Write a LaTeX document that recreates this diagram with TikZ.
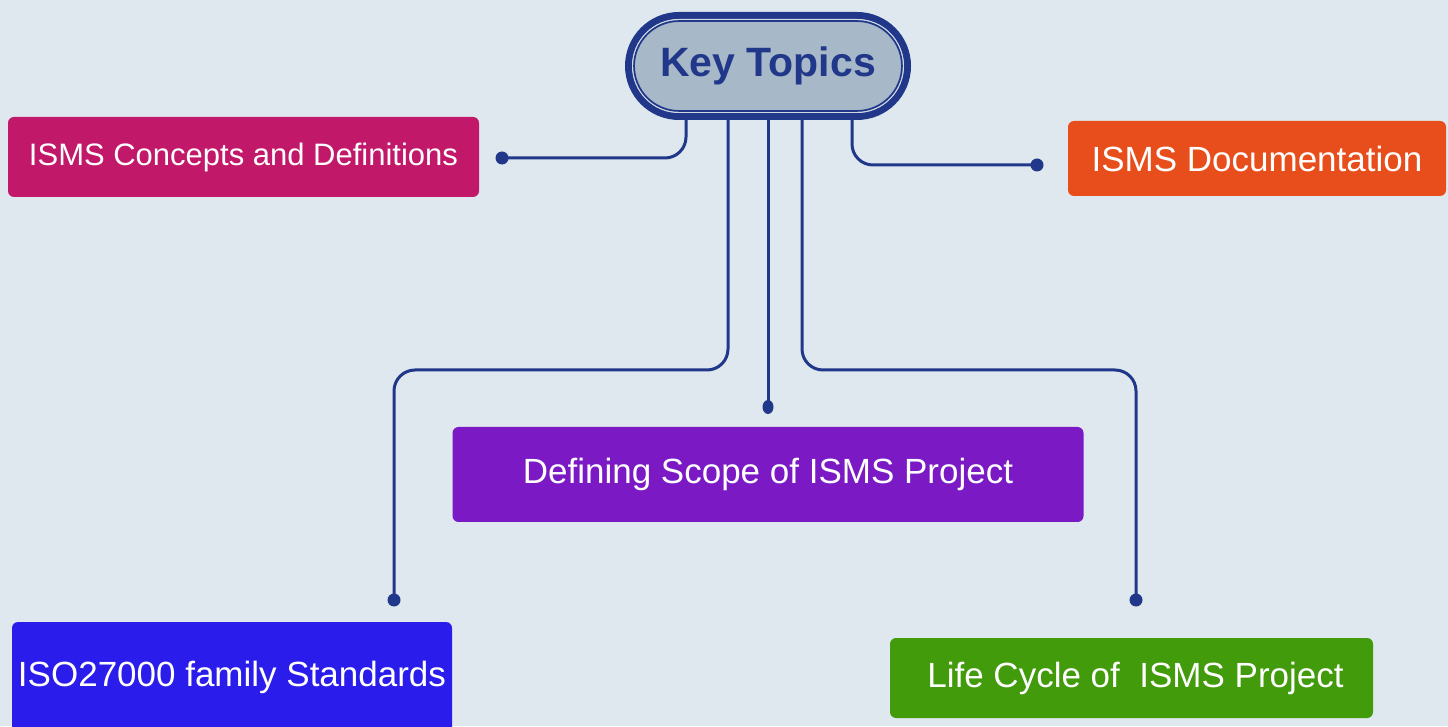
\documentclass[tikz,border=0pt]{standalone}
\usepackage{fontspec}
\setmainfont{Liberation Sans}
\usepackage{xcolor}
\usepackage{tikz}
\usetikzlibrary{positioning}
\definecolor{bgblue}{RGB}{223,232,238}
\definecolor{linkblue}{RGB}{33,56,138}
\definecolor{keyfill}{RGB}{167,184,200}
\definecolor{keyglow}{RGB}{206,217,228}
\definecolor{ctmagenta}{RGB}{194,24,106}
\definecolor{ctorange}{RGB}{232,78,27}
\definecolor{ctpurple}{RGB}{123,25,197}
\definecolor{ctblue}{RGB}{42,28,235}
\definecolor{ctgreen}{RGB}{65,155,10}

\begin{document}
\begin{tikzpicture}[x=1pt, y=1pt]
    \tikzstyle{keytopic} = [rectangle, rounded corners=50.5pt, draw=linkblue, line width=7pt, fill=keyfill, outer sep=0pt, minimum width=279pt, minimum height=101pt, text=linkblue, font=\fontsize{41}{47}\selectfont\bfseries]
    \tikzstyle{topic} = [rectangle, text=white, rounded corners=6pt, inner sep=0pt, outer sep=0pt, font=\fontsize{35}{40}\selectfont]
    \tikzstyle{link} = [linkblue, line width=3pt, rounded corners=21pt]
    \tikzstyle{dot} = [fill=linkblue]

    \useasboundingbox (0,0) rectangle (1448,726);
    \fill [bgblue] (0,0) rectangle (1448,726);

    % centre topic
    \node [keytopic] (key) at (768,660) {Key Topics};
    \draw [keyglow, line width=1.2pt, rounded corners=46.4pt] ([shift={(4.1pt,-4.1pt)}]key.north west) rectangle ([shift={(-4.1pt,4.1pt)}]key.south east);
    \draw [linkblue, line width=1.7pt, rounded corners=45pt] ([shift={(5.55pt,-5.55pt)}]key.north west) rectangle ([shift={(-5.55pt,5.55pt)}]key.south east);

    % topics
    \node [topic, fill=ctmagenta, minimum width=471pt, minimum height=80pt, font=\fontsize{31}{36}\selectfont] (concepts) at (243.5,569) {ISMS Concepts and Definitions};
    \node [topic, fill=ctorange, minimum width=378pt, minimum height=75pt] (docs) at (1257,567.5) {ISMS Documentation};
    \node [topic, fill=ctpurple, minimum width=631pt, minimum height=95pt, below=310.5pt of key] (scope) {Defining Scope of ISMS Project};
    \node [topic, fill=ctblue, minimum width=440pt, minimum height=111pt] (iso) at (232,48.5) {ISO27000 family Standards};
    \node [topic, fill=ctgreen, minimum width=483pt, minimum height=80pt] (life) at (1131.5,48) {\hspace*{8pt}Life Cycle of\ \ ISMS Project};

    % connector ends
    \coordinate (dconcepts) at (502,568);
    \coordinate (ddocs) at (1037,561);
    \coordinate (dscope) at ([yshift=20pt]scope.north);
    \coordinate (diso) at (394,126);
    \coordinate (dlife) at (1136,126);

    \draw [link] ([xshift=-82pt]key.south) |- (dconcepts);
    \draw [link] ([xshift=84pt]key.south) |- (ddocs);
    \draw [link] ([xshift=-40pt]key.south) -- ++(0,-253.5) -| (diso);
    \draw [link] (key.south) -- (dscope);
    \draw [link] ([xshift=34pt]key.south) -- ++(0,-253.5) -| (dlife);

    \fill [dot] (dconcepts) circle (6.5pt);
    \fill [dot] (ddocs) circle (6.5pt);
    \fill [dot] (dscope) ellipse (5.5pt and 7pt);
    \fill [dot] (diso) circle (6.5pt);
    \fill [dot] (dlife) circle (6.5pt);
\end{tikzpicture}
\end{document}
